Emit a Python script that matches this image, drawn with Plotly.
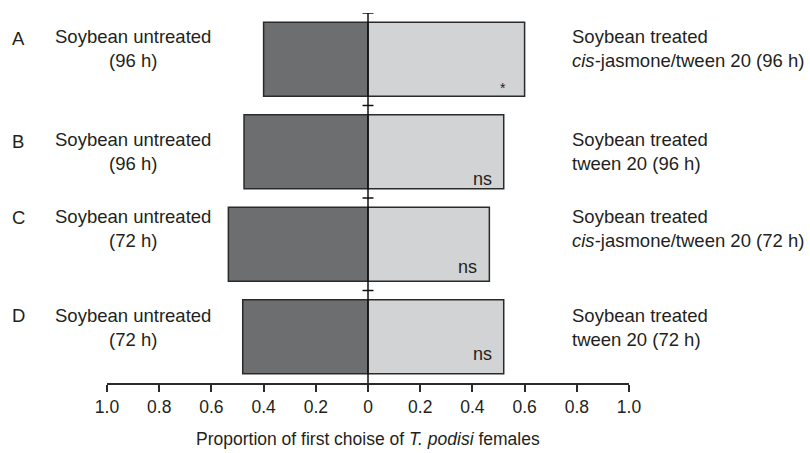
import plotly.graph_objects as go

# Two-choice olfactometer results: proportion of first choice per assay
rows = ["A", "B", "C", "D"]
untreated = [0.40, 0.475, 0.535, 0.48]
treated = [0.60, 0.52, 0.465, 0.52]
significance = ["*", "ns", "ns", "ns"]

untreated_labels = [
    "Soybean untreated<br>(96 h)",
    "Soybean untreated<br>(96 h)",
    "Soybean untreated<br>(72 h)",
    "Soybean untreated<br>(72 h)",
]
treated_labels = [
    "Soybean treated<br><i>cis</i>-jasmone/tween 20 (96 h)",
    "Soybean treated<br>tween 20 (96 h)",
    "Soybean treated<br><i>cis</i>-jasmone/tween 20 (72 h)",
    "Soybean treated<br>tween 20 (72 h)",
]

tick_vals = [-1.0, -0.8, -0.6, -0.4, -0.2, 0.0, 0.2, 0.4, 0.6, 0.8, 1.0]
tick_text = ["1.0", "0.8", "0.6", "0.4", "0.2", "0", "0.2", "0.4", "0.6", "0.8", "1.0"]

# vertical nudges (px) for text blocks in each row
label_shift = [10.5, 0, 15.5, 9]
letter_shift = [21, 10, 27, 21]
sig_shift = [-29, -27, -22.5, -17]

FONT = "Arial, Liberation Sans, Helvetica, sans-serif"
INK = "#231f20"
EDGE = "#2a2a2a"

fig = go.Figure()
fig.add_trace(go.Bar(
    y=list(range(len(rows))), x=[-v for v in untreated], orientation="h",
    marker=dict(color="#6d6e70", line=dict(color=EDGE, width=1.5)),
    width=0.8, showlegend=False, hoverinfo="skip",
))
fig.add_trace(go.Bar(
    y=list(range(len(rows))), x=treated, orientation="h",
    marker=dict(color="#d1d3d4", line=dict(color=EDGE, width=1.5)),
    width=0.8, showlegend=False, hoverinfo="skip",
))

n = len(rows)
shapes = [dict(type="line", xref="x", yref="y", x0=0, x1=0, y0=-0.5, y1=n - 0.5,
               line=dict(color="#111", width=1.5), layer="above")]
for k in range(n):
    shapes.append(dict(type="line", xref="x", yref="y", x0=-0.021, x1=0.021,
                       y0=k - 0.5, y1=k - 0.5, line=dict(color="#111", width=1.5),
                       layer="above"))

annotations = []
for i in range(n):
    annotations.append(dict(
        xref="paper", yref="y", x=-0.1858, y=i, xanchor="left", yanchor="middle",
        yshift=letter_shift[i], text=rows[i], showarrow=False,
        font=dict(family=FONT, size=18.5, color=INK)))
    annotations.append(dict(
        xref="paper", yref="y", x=0.0489, y=i, xanchor="center", yanchor="middle",
        yshift=label_shift[i], text=untreated_labels[i], showarrow=False, align="center",
        font=dict(family=FONT, size=18.5, color=INK)))
    annotations.append(dict(
        xref="paper", yref="y", x=0.8875, y=i, xanchor="left", yanchor="middle",
        yshift=label_shift[i], text=treated_labels[i], showarrow=False, align="left",
        font=dict(family=FONT, size=18.5, color=INK)))
    star = significance[i] == "*"
    annotations.append(dict(
        xref="x", yref="y", x=treated[i], y=i, xanchor="right", yanchor="middle",
        xshift=-17 if star else -10, yshift=sig_shift[i], text=significance[i],
        showarrow=False, font=dict(family=FONT, size=14 if star else 18, color=INK)))

annotations.append(dict(
    xref="paper", yref="paper", x=0.5, y=-0.1514, xanchor="center", yanchor="middle",
    text="Proportion of first choise of <i>T. podisi</i> females", showarrow=False,
    font=dict(family=FONT, size=17.5, color=INK)))

fig.update_layout(
    width=810, height=453,
    margin=dict(l=107, r=181, t=13, b=70),
    paper_bgcolor="white", plot_bgcolor="white",
    barmode="relative", bargap=0.2,
    shapes=shapes, annotations=annotations,
    xaxis=dict(range=[-1, 1], tickvals=tick_vals, ticktext=tick_text,
               showgrid=False, zeroline=False, showline=True, linecolor=EDGE,
               linewidth=1.5, ticks="outside", ticklen=7, tickwidth=1.5,
               tickcolor=EDGE, tickfont=dict(family=FONT, size=17.5, color=INK),
               fixedrange=True),
    yaxis=dict(range=[n - 0.5, -0.5], showgrid=False, zeroline=False,
               showline=False, showticklabels=False, ticks="", fixedrange=True),
)

fig.write_html("out.html")
